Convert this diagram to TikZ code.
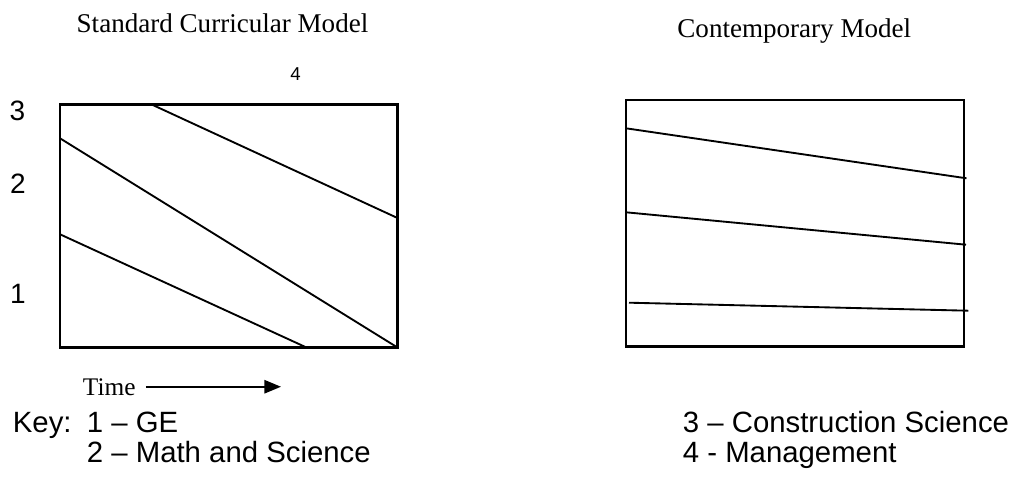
\documentclass[tikz,border=0pt]{standalone}
\usepackage{fontspec}
\setmainfont{Liberation Serif}
\setsansfont{Liberation Sans}
\usetikzlibrary{arrows.meta}
\tikzset{
  every picture/.style={line width=1.4pt},
  frame/.style={draw, line width=1.6pt},
  band/.style={draw, line width=1.4pt},
  title/.style={font=\fontsize{20.3}{24}\selectfont, anchor=base, inner sep=0pt},
  level/.style={font=\sffamily\fontsize{21}{25}\selectfont, anchor=base, inner sep=0pt},
  keytext/.style={font=\sffamily\fontsize{22}{26}\selectfont, anchor=base west, inner sep=0pt},
  arrow/.style={-{Triangle[length=12.5pt, width=10pt]}, line width=1.4pt},
}

\begin{document}
\begin{tikzpicture}[x=0.75pt, y=-0.75pt]
  \useasboundingbox (0,0) rectangle (1011,489);
  % standard
  \begin{scope}
    \node[title] (stdtitle) at (222.5,32) {Standard Curricular Model};
    \draw[frame] (60,104.5) rectangle (397.5,347.5);
    \draw[band] (60,234.3) -- (306.5,347.5);
    \draw[band] (60,138.3) -- (397.5,347.5);
    \draw[band] (151.7,104.5) -- (397.5,218);
    \node[level, font=\sffamily\fontsize{14}{17}\selectfont] (lvl4) at (295.5,80) {4};
    \node[level] (lvl3) at (17.5,120) {3};
    \node[level] (lvl2) at (18,193) {2};
    \node[level] (lvl1) at (18,303) {1};
    \node[title, anchor=base west, font=\fontsize{19}{23}\selectfont] (time) at (82,395) {Time};
    \coordinate (timeend) at (281,387);
    \draw[arrow, shorten <=7pt] (time.east) -- (time.east -| timeend);
  \end{scope}
  % contemporary
  \begin{scope}
    \node[title] (contitle) at (794.3,37) {Contemporary Model};
    \draw[frame] (626,100) rectangle (964,346.5);
    \draw[band] (626,128.3) -- (966.5,178.3);
    \draw[band] (626,212.3) -- (966,244.7);
    \draw[band] (629,302.7) -- (968.3,310.7);
  \end{scope}
  % key
  \node[keytext] (key) at (12,432) {Key:};
  \node[keytext] (key1) at (86,432) {1 – GE};
  \node[keytext] (key2) at (86,462) {2 – Math and Science};
  \node[keytext] (key3) at (682,432) {3 – Construction Science};
  \node[keytext] (key4) at (682,462) {4 - Management};
\end{tikzpicture}
\end{document}
